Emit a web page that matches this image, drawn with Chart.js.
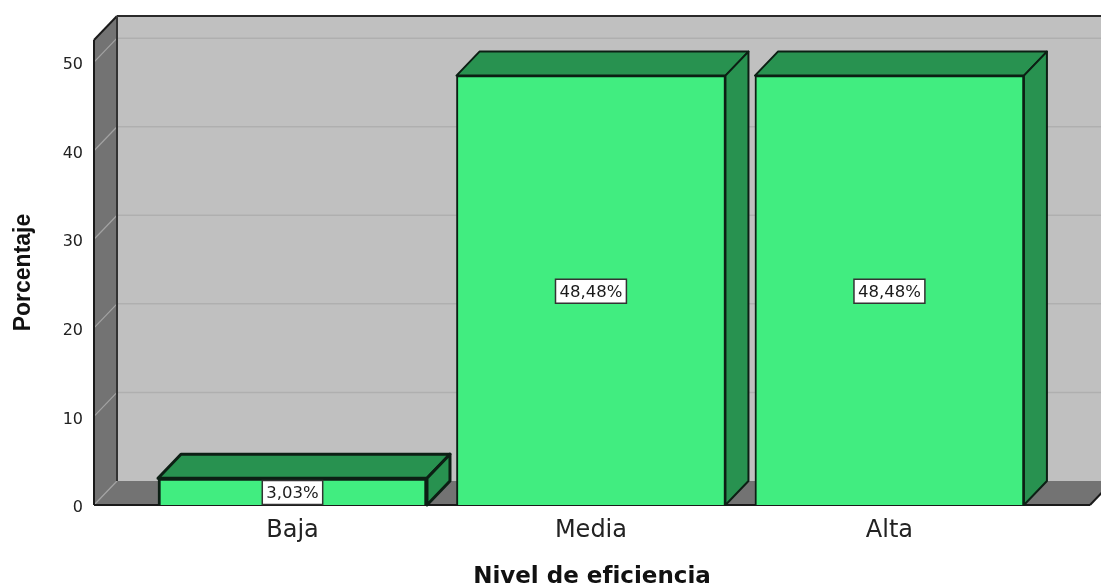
<!DOCTYPE html>
<html><head><meta charset="utf-8">
<style>html,body{margin:0;padding:0;background:#fff}canvas{display:block}</style>
<script src="https://cdn.jsdelivr.net/npm/chart.js@4"></script>
</head><body>
<canvas id="c" width="1101" height="586"></canvas>
<script>
const categories = ["Baja", "Media", "Alta"];
const values = [3.03, 48.48, 48.48];
const yTickValues = [0, 10, 20, 30, 40, 50];
const xTitle = "Nivel de eficiencia";
const yTitle = "Porcentaje";

const DX = 23, DY = 24;
const wallBack = "#c0c0c0", wallSide = "#737373", gridBack = "#afafaf", gridSide = "#a3a3a3";
const frontColor = "#41ed80", shadeColor = "#289250", edge = "#0c1f14";

function poly(ctx, pts, fill, stroke, lw) {
  ctx.beginPath();
  pts.forEach((p, i) => i ? ctx.lineTo(p[0], p[1]) : ctx.moveTo(p[0], p[1]));
  ctx.closePath();
  if (fill) { ctx.fillStyle = fill; ctx.fill(); }
  if (stroke) { ctx.strokeStyle = stroke; ctx.lineWidth = lw; ctx.lineJoin = "round"; ctx.stroke(); }
}
function line(ctx, a, b, color, lw) {
  ctx.beginPath(); ctx.moveTo(a[0], a[1]); ctx.lineTo(b[0], b[1]);
  ctx.strokeStyle = color; ctx.lineWidth = lw; ctx.stroke();
}
const box3d = {
  id: "box3d",
  beforeDraw(chart) { chart.ctx.textRendering = "optimizeSpeed"; },
  beforeDatasetsDraw(chart) {
    const { ctx, chartArea: a, scales: { y } } = chart;
    const l = a.left, r = a.right, t = a.top, b = a.bottom;
    ctx.save();
    poly(ctx, [[l + DX, t - DY], [r + DX, t - DY], [r + DX, b - DY], [l + DX, b - DY]], wallBack);
    poly(ctx, [[l, t], [l + DX, t - DY], [l + DX, b - DY], [l, b]], wallSide);
    poly(ctx, [[l, b], [r, b], [r + DX, b - DY], [l + DX, b - DY]], wallSide);
    yTickValues.forEach(v => {
      const py = y.getPixelForValue(v);
      if (v > 0) line(ctx, [l + DX, py - DY], [r + DX, py - DY], gridBack, 1.5);
      line(ctx, [l, py], [l + DX, py - DY], gridSide, 1.2);
    });
    line(ctx, [l, t], [l + DX, t - DY], "#1a1a1a", 2);
    line(ctx, [l + DX, t - DY], [r + DX, t - DY], "#2a2a2a", 2);
    line(ctx, [l, t], [l, b], "#1a1a1a", 2);
    line(ctx, [l + DX, t - DY], [l + DX, b - DY], "#333", 2);
    line(ctx, [l, b], [r, b], "#1a1a1a", 2);
    line(ctx, [r, b], [r + DX, b - DY], "#1a1a1a", 2);
    chart.getDatasetMeta(0).data.forEach((bar, i) => {
      const w = bar.width / 2, x0 = bar.x - w, x1 = bar.x + w, yt = bar.y, yb = bar.base;
      const lw = i === 0 ? 3 : 2;
      poly(ctx, [[x0, yt], [x0 + DX, yt - DY], [x1 + DX, yt - DY], [x1, yt]], shadeColor, edge, lw);
      poly(ctx, [[x1, yt], [x1 + DX, yt - DY], [x1 + DX, yb - DY], [x1, yb]], shadeColor, edge, lw);
    });
    ctx.restore();
  },
  afterDatasetsDraw(chart) {
    const { ctx, scales: { y } } = chart;
    ctx.save();
    ctx.font = "16.5px 'DejaVu Sans'";
    ctx.textAlign = "center"; ctx.textBaseline = "middle";
    chart.getDatasetMeta(0).data.forEach((bar, i) => {
      const text = values[i].toFixed(2).replace(".", ",") + "%";
      const cy = y.getPixelForValue(values[i] / 2);
      const tw = ctx.measureText(text).width + 8, h = 24;
      ctx.fillStyle = "#fff";
      ctx.strokeStyle = "#333"; ctx.lineWidth = 1.5;
      ctx.beginPath();
      ctx.rect(bar.x - tw / 2, cy - h / 2 + 1, tw, h);
      ctx.fill(); ctx.stroke();
      ctx.fillStyle = "#1a1a1a";
      ctx.fillText(text, bar.x, cy + 2);
    });
    ctx.restore();
  }
};

new Chart(document.getElementById("c"), {
  type: "bar",
  data: {
    labels: categories,
    datasets: [{
      data: values.map((v, i) => ({ x: i, y: v })),
      backgroundColor: frontColor,
      borderColor: edge,
      borderWidth: ctx => ctx.dataIndex === 0 ? 3 : 2,
      barThickness: 269
    }]
  },
  options: {
    responsive: false,
    animation: false,
    layout: { padding: { top: 40, right: 11, left: 0, bottom: 0 } },
    plugins: { legend: { display: false }, tooltip: { enabled: false } },
    scales: {
      x: {
        type: "linear", offset: false, min: -0.665, max: 2.672,
        afterBuildTicks: s => { s.ticks = categories.map((_, i) => ({ value: i })); },
        afterFit: s => { s.height = 81; },
        grid: { display: false, drawTicks: false },
        border: { display: false },
        ticks: {
          autoSkip: false, maxRotation: 0, padding: 11,
          font: { family: "DejaVu Sans", size: 24 }, color: "#222",
          callback: v => categories[v]
        },
        title: {
          display: true, text: xTitle, color: "#111",
          font: { family: "DejaVu Sans", size: 23, weight: "bold" }, padding: { top: 0, bottom: -5 }
        }
      },
      y: {
        min: 0, max: 52.5,
        afterBuildTicks: s => { s.ticks = yTickValues.map(v => ({ value: v })); },
        afterFit: s => { s.width = 94; },
        grid: { display: false, drawTicks: false },
        border: { display: false },
        ticks: { padding: 11, labelOffset: 3, font: { family: "DejaVu Sans", size: 16 }, color: "#222" },
        title: {
          display: true, text: yTitle, color: "#111",
          font: { family: "Liberation Sans", size: 23, weight: "bold" }, padding: { top: 10, bottom: 0 }
        }
      }
    }
  },
  plugins: [box3d]
});
</script>
</body></html>
